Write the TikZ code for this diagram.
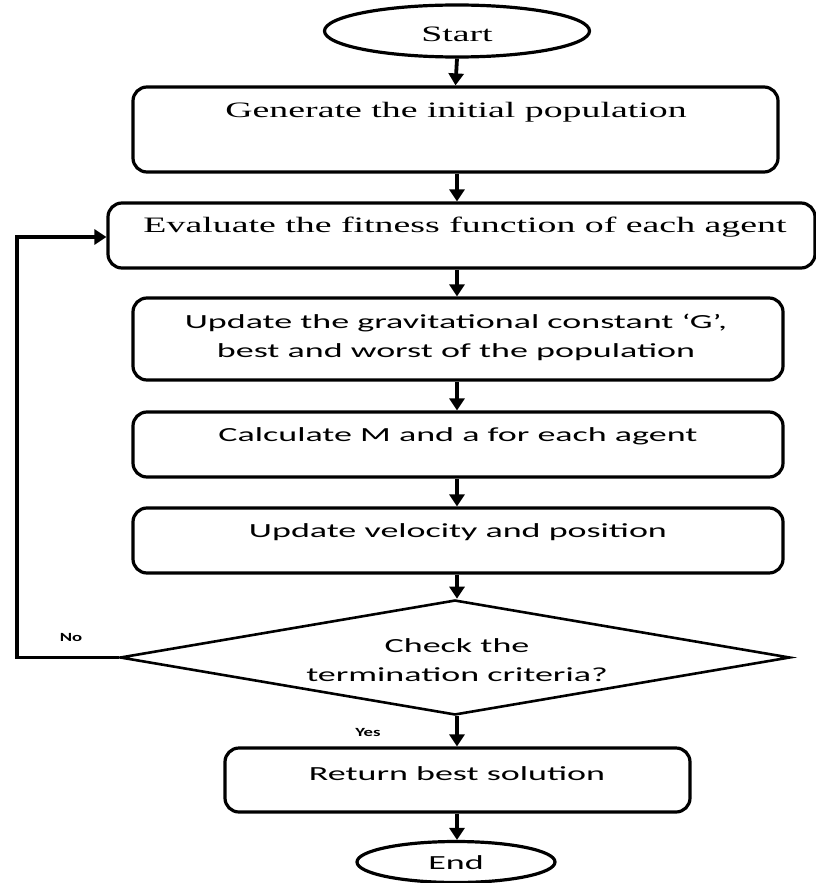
\documentclass[tikz,border=0pt]{standalone}
\usepackage{fontspec}
\usepackage{graphicx}
\setmainfont{Liberation Serif}
\newfontfamily\calib{Carlito}
\newcommand{\wide}[1]{\scalebox{1.72}[1]{#1}}
\newcommand{\swide}[1]{\scalebox{1.8}[1]{#1}}
\usetikzlibrary{shapes.geometric,arrows.meta}
\begin{document}
\begin{tikzpicture}[x=1pt,y=-1pt,
  box/.style={draw,line width=3.2pt,rounded corners=14pt,inner sep=0pt},
  term/.style={draw,ellipse,line width=3.2pt,inner sep=0pt},
  dec/.style={draw,diamond,line width=2.6pt,inner sep=0pt},
  flow/.style={line width=3.8pt,-{Triangle[length=12pt,width=15pt]}},
  serif/.style={font=\fontsize{22}{26}\selectfont},
  sans/.style={font=\calib\fontsize{20}{28}\selectfont},
  lab/.style={font=\calib\bfseries\fontsize{12.5}{14}\selectfont}]
\useasboundingbox (0,0) rectangle (816,883);
% shapes
\node[term,minimum width=265pt,minimum height=52pt] (start) at (457,31) {};
\node[serif] (startT) at (457,34) {\wide{Start}};
\node[box,minimum width=645pt,minimum height=85pt] (gen) at (455.5,129.5) {};
\node[serif] (genT) at (456,112) {\wide{Generate the initial population}};
\node[box,minimum width=707pt,minimum height=65pt] (eval) at (461.5,235.5) {};
\node[serif] (evalT) at (465,227) {\wide{Evaluate the fitness function of each agent}};
\node[box,minimum width=650pt,minimum height=82pt] (upg) at (458,339) {};
\node[sans] (upgT) at (456,337) {\swide{\begin{tabular}{@{}c@{}}Update the gravitational constant ‘G’,\\[1pt] best and worst of the population\end{tabular}}};
\node[box,minimum width=650pt,minimum height=65pt] (calc) at (458,444.5) {};
\node[sans] (calcT) at (458,436) {\swide{Calculate M and a for each agent}};
\node[box,minimum width=650pt,minimum height=65pt] (vel) at (458,540.5) {};
\node[sans] (velT) at (458,532) {\swide{Update velocity and position}};
\node[dec,minimum width=670pt,minimum height=115pt] (chk) at (455,657.5) {};
\node[sans] (chkT) at (457,661) {\swide{\begin{tabular}{@{}c@{}}Check the\\[1pt] termination criteria?\end{tabular}}};
\node[box,minimum width=465pt,minimum height=64pt] (ret) at (457.5,780) {};
\node[sans] (retT) at (457,774) {\swide{Return best solution}};
\node[term,minimum width=198pt,minimum height=41pt] (end) at (456,862) {};
\node[sans] (endT) at (456,863) {\swide{End}};
\node[lab] (no) at (71,637) {\scalebox{1.5}[1]{No}};
\node[lab] (yes) at (368,732) {\scalebox{1.5}[1]{Yes}};
\coordinate (fbB) at (17,657.5);
\coordinate (fbT) at (17,237);
% connectors
\draw[flow] (start.south) -- (gen.north);
\draw[flow] (gen.south -| start.south) -- (eval.north -| start.south);
\draw[flow] (eval.south -| start.south) -- (upg.north -| start.south);
\draw[flow] (upg.south -| start.south) -- (calc.north -| start.south);
\draw[flow] (calc.south -| start.south) -- (vel.north -| start.south);
\draw[flow] (vel.south -| start.south) -- (chk.north -| start.south);
\draw[flow] (chk.south -| start.south) -- (ret.north -| start.south);
\draw[flow] (ret.south -| start.south) -- (end.north -| start.south);
\draw[flow,rounded corners=0pt] (chk.west) -- (fbB) -- (fbT) -- (eval.west |- fbT);
\end{tikzpicture}
\end{document}
